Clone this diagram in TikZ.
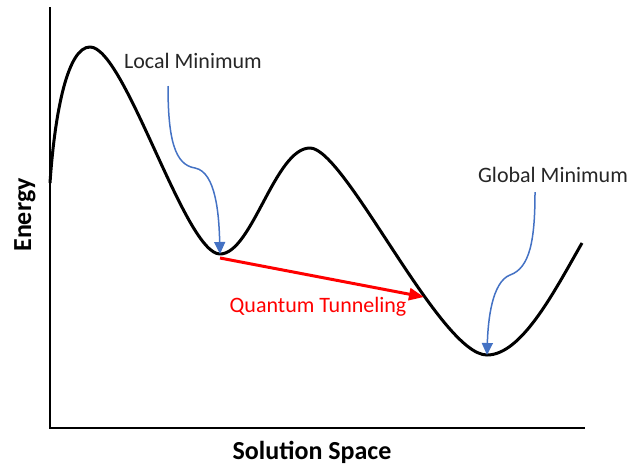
\documentclass[tikz,border=0pt]{standalone}
\usepackage{fontspec}
\setmainfont{Carlito}
\usepackage{xcolor}
\usetikzlibrary{arrows.meta}
\definecolor{pointblue}{HTML}{4472C4}
\definecolor{labelgray}{HTML}{262626}
\tikzset{
  axis/.style={line width=2.6pt},
  landscape/.style={line width=3pt, line join=round},
  pointer/.style={-{Triangle[width=11pt,length=12pt]}, line width=1.5pt, color=pointblue},
  tunnel/.style={-{Triangle[width=12pt,length=15pt]}, line width=3pt, color=red},
  tag/.style={font=\fontsize{22}{26}\selectfont, text=labelgray, inner sep=0pt},
  axislabel/.style={font=\fontsize{26}{30}\selectfont\bfseries, inner sep=0pt}
}

\begin{document}
\begin{tikzpicture}[x=1pt,y=-1pt]
  \useasboundingbox (0,0) rectangle (644,466);
  % axes
  \coordinate (O) at (50,428);
  \coordinate (ytop) at (50,7);
  \coordinate (xend) at (585,428);
  \draw[axis] (ytop) -- (O) -- (xend);
  \node[axislabel, rotate=90] (ylab) at (25,215) {Energy};
  \node[axislabel] (xlab) at (312,452) {Solution Space};
  % energy landscape
  \coordinate (start) at (50,183);
  \coordinate (peak1) at (90,47);
  \coordinate (localmin) at (220,254);
  \coordinate (peak2) at (310,148);
  \coordinate (globalmin) at (487,355);
  \coordinate (finish) at (582,243);
  \draw[landscape] (start) .. controls (55,110) and (68,47) .. (peak1)
    .. controls (125,47) and (185,254) .. (localmin)
    .. controls (252,254) and (275,148) .. (peak2)
    .. controls (345,148) and (440,355) .. (globalmin)
    .. controls (522,355) and (555,290) .. (finish);
  % labels and pointers
  \node[tag] (lmin) at (193,61) {Local Minimum};
  \node[tag] (gmin) at (553,175) {Global Minimum};
  \coordinate (ltail) at (168,86);
  \coordinate (gtail) at (535,192);
  \draw[pointer] (ltail) .. controls (168,140) and (175,165) .. (195,168)
    .. controls (216,172) and (219,215) .. (localmin);
  \draw[pointer] (gtail) .. controls (535,240) and (530,268) .. (510,275)
    .. controls (492,282) and (488,320) .. (globalmin);
  % tunneling
  \coordinate (through) at (424,297);
  \draw[tunnel] (localmin) ++(0,4) coordinate (tstart) -- (through);
  \node[tag, text=red] (qt) at (318,307) {Quantum Tunneling};
\end{tikzpicture}
\end{document}
